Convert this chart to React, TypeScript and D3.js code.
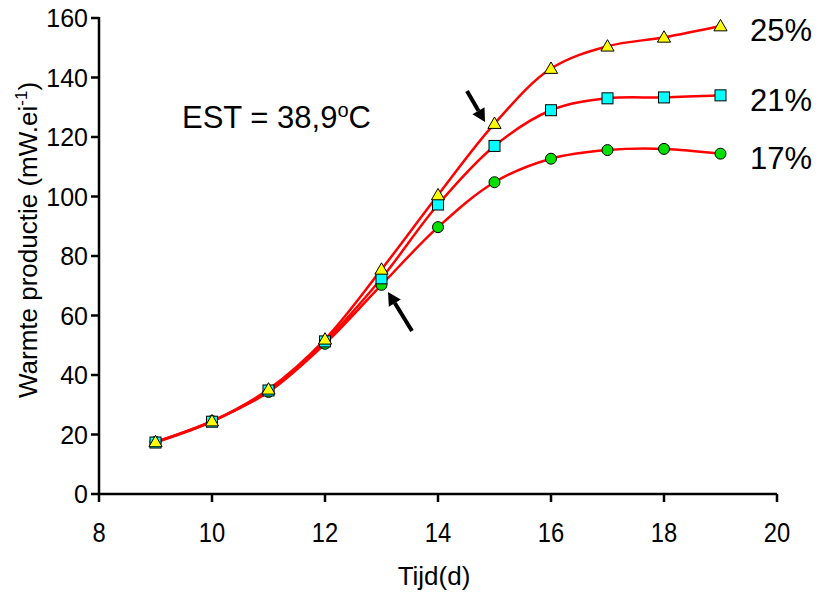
import React from "react";
import * as d3 from "d3";

const days = [9, 10, 11, 12, 13, 14, 15, 16, 17, 18, 19];
const p17 = [17.5, 24.5, 34.3, 50.5, 70.3, 89.7, 104.8, 112.7, 115.6, 116.0, 114.4];
const p21 = [17.3, 24.3, 34.8, 51.3, 72.5, 97.3, 117.0, 129.0, 133.0, 133.3, 134.0];
const p25 = [17.5, 24.5, 35.2, 52.0, 75.5, 100.5, 124.5, 143.0, 150.5, 153.5, 157.3];
const xTicks = [8, 10, 12, 14, 16, 18, 20];
const yTicks = [0, 20, 40, 60, 80, 100, 120, 140, 160];
const seriesLabels = ["17%", "21%", "25%"];

const W = 818, H = 595;
const FONT = "'Liberation Sans', Arial, sans-serif";

export default function App() {
  const x = d3.scaleLinear().domain([8, 20]).range([99, 777]);
  const y = d3.scaleLinear().domain([0, 160]).range([494, 18]);
  const line = d3
    .line<number>()
    .x((_, i) => x(days[i]))
    .y((d) => y(d))
    .curve(d3.curveCatmullRom);

  const series = [p17, p21, p25];
  const tri = d3.symbol().type(d3.symbolTriangle).size(75)()!;

  const arrow = (x1: number, y1: number, x2: number, y2: number, key: string) => {
    const ang = Math.atan2(y2 - y1, x2 - x1);
    const hl = 13, hw = 7;
    const bx = x2 - hl * Math.cos(ang), by = y2 - hl * Math.sin(ang);
    const px = -Math.sin(ang) * hw, py = Math.cos(ang) * hw;
    return (
      <g key={key}>
        <line x1={x1} y1={y1} x2={bx} y2={by} stroke="#000" strokeWidth={4} />
        <polygon points={`${x2},${y2} ${bx + px},${by + py} ${bx - px},${by - py}`} fill="#000" />
      </g>
    );
  };

  return (
    <svg width={W} height={H} style={{ position: "absolute", left: 0, top: 0, background: "#fff" }} fontFamily={FONT}>
      <rect width={W} height={H} fill="#fff" />
      {/* axes */}
      <line x1={99} y1={y(160) - 1} x2={99} y2={495} stroke="#000" strokeWidth={2.5} />
      <line x1={98} y1={494} x2={x(20)} y2={494} stroke="#000" strokeWidth={2.5} />
      {yTicks.map((t) => (
        <g key={"y" + t}>
          <line x1={91} x2={99} y1={y(t)} y2={y(t)} stroke="#000" strokeWidth={2.5} />
          <text x={88} y={y(t)} dy="0.36em" textAnchor="end" fontSize={25}>{t}</text>
        </g>
      ))}
      {xTicks.map((t) => (
        <g key={"x" + t}>
          <line x1={x(t)} x2={x(t)} y1={494} y2={502} stroke="#000" strokeWidth={2.5} />
          <text x={x(t)} y={542} textAnchor="middle" fontSize={27} transform={`translate(${x(t)},0) scale(0.88,1) translate(${-x(t)},0)`}>{t}</text>
        </g>
      ))}
      <text x={434} y={585} textAnchor="middle" fontSize={26}>Tijd(d)</text>
      <text transform="translate(37,240) rotate(-90)" textAnchor="middle" fontSize={26}>
        Warmte productie (mW.ei<tspan fontSize={17} dy={-10}>-1</tspan><tspan dy={10}>)</tspan>
      </text>
      <text x={182} y={128} fontSize={31}>
        EST = 38,9<tspan fontSize={20} dy={-11}>o</tspan><tspan dy={11}>C</tspan>
      </text>
      {/* lines */}
      {series.map((s, i) => (
        <path key={"l" + i} d={line(s) || ""} fill="none" stroke="#ff0000" strokeWidth={2.5} />
      ))}
      {/* markers */}
      {p17.map((v, i) => (
        <circle key={"c" + i} cx={x(days[i])} cy={y(v)} r={5.5} fill="#00e000" stroke="#000" strokeWidth={1} />
      ))}
      {p21.map((v, i) => (
        <rect key={"s" + i} x={x(days[i]) - 5.5} y={y(v) - 5.5} width={11} height={11} fill="#00ffff" stroke="#000" strokeWidth={1} />
      ))}
      {p25.map((v, i) => (
        <path key={"t" + i} d={tri} transform={`translate(${x(days[i])},${y(v) + 1})`} fill="#ffff00" stroke="#000" strokeWidth={1} />
      ))}
      {/* series labels */}
      <text x={750} y={169} fontSize={31}>{seriesLabels[0]}</text>
      <text x={750} y={111} fontSize={31}>{seriesLabels[1]}</text>
      <text x={750} y={41} fontSize={31}>{seriesLabels[2]}</text>
      {arrow(467, 91, 485, 122, "a1")}
      {arrow(412, 331, 388, 292, "a2")}
    </svg>
  );
}
